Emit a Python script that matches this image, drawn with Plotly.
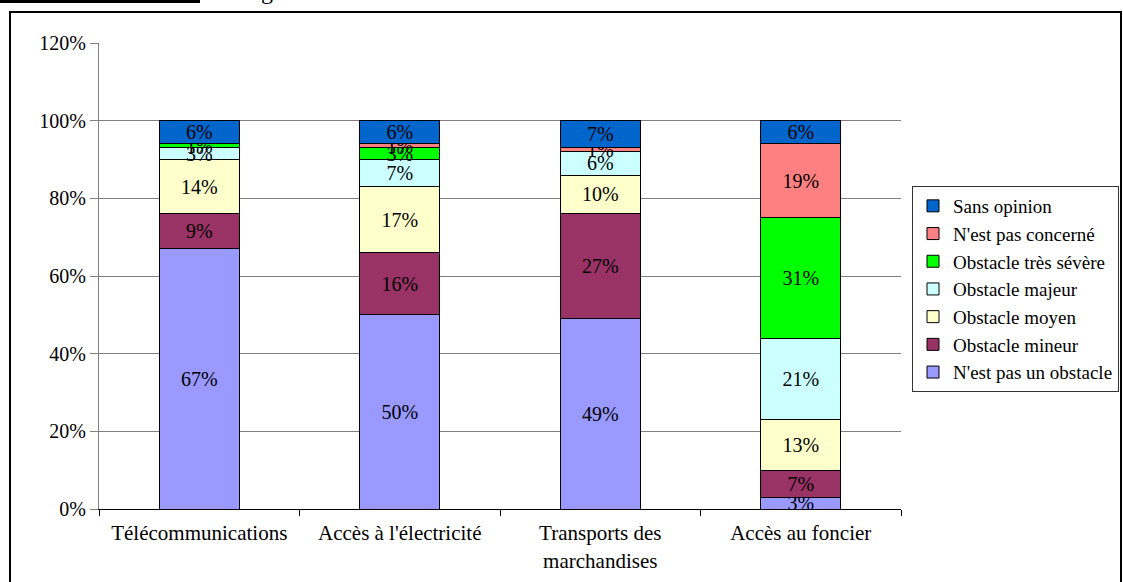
import plotly.graph_objects as go

categories = ["Télécommunications", "Accès à l'électricité", "Transports des<br>marchandises", "Accès au foncier"]

series_names = [
    "N'est pas un obstacle",
    "Obstacle mineur",
    "Obstacle moyen",
    "Obstacle majeur",
    "Obstacle très sévère",
    "N'est pas concerné",
    "Sans opinion",
]

pas_obstacle = [67, 50, 49, 3]
mineur = [9, 16, 27, 7]
moyen = [14, 17, 10, 13]
majeur = [3, 7, 6, 21]
tres_severe = [1, 3, 0, 31]
pas_concerne = [0, 1, 1, 19]
sans_opinion = [6, 6, 7, 6]

y_ticks = [0, 20, 40, 60, 80, 100, 120]
y_tick_labels = ["0%", "20%", "40%", "60%", "80%", "100%", "120%"]

colors = ["#9999FF", "#993366", "#FFFFCC", "#CCFFFF", "#00FF00", "#FF8080", "#0066CC"]
series_values = [pas_obstacle, mineur, moyen, majeur, tres_severe, pas_concerne, sans_opinion]

FONT = "Liberation Serif"
FS = 20

fig = go.Figure()
for name, vals, col in zip(series_names, series_values, colors):
    fig.add_trace(go.Bar(
        x=categories, y=vals, name=name,
        marker=dict(color=col, line=dict(color="black", width=1)),
        text=[f"{v:.0f}%" if v > 0 else "" for v in vals],
        textposition="inside", insidetextanchor="middle",
        textfont=dict(family=FONT, size=FS, color="black"),
        width=0.4,
    ))

W, H = 1123, 582
L, R, T, B = 99, 222, 43, 73
pw, ph = W - L - R, H - T - B

def px_x(p):
    return (p - L) / pw

def px_y(p):
    return (H - B - p) / ph

fig.update_layout(
    width=W, height=H,
    margin=dict(l=L, r=R, t=T, b=B, autoexpand=False),
    barmode="stack",
    bargap=0.6,
    plot_bgcolor="white", paper_bgcolor="white",
    font=dict(family=FONT, size=FS, color="black"),
    uniformtext=dict(minsize=FS, mode="show"),
    showlegend=True,
    legend=dict(
        x=px_x(912), y=px_y(186), xanchor="left", yanchor="top",
        traceorder="reversed",
        bordercolor="#333333", borderwidth=1,
        font=dict(family=FONT, size=19, color="black"),
        bgcolor="white",
        itemclick=False, itemdoubleclick=False,
    ),
    xaxis=dict(
        showgrid=False, showline=True, linecolor="black", linewidth=1,
        ticks="outside", tickson="boundaries", ticklen=6, tickcolor="black",
        tickfont=dict(family=FONT, size=21),
        ticklabelstandoff=5,
    ),
    yaxis=dict(
        range=[0, 120], tickmode="array", tickvals=y_ticks, ticktext=y_tick_labels,
        showgrid=True, gridcolor="#808080", gridwidth=1,
        showline=True, linecolor="#808080", linewidth=1,
        ticks="outside", ticklen=8, tickcolor="#808080",
        tickfont=dict(family=FONT, size=FS),
        zeroline=False,
    ),
    shapes=[
        dict(type="rect", xref="paper", yref="paper",
             x0=px_x(10), x1=px_x(1121), y0=px_y(584), y1=px_y(12),
             line=dict(color="black", width=2), fillcolor="rgba(0,0,0,0)", layer="below"),
        dict(type="rect", xref="paper", yref="paper",
             x0=px_x(-2), x1=px_x(200), y0=px_y(3), y1=px_y(-2),
             line=dict(width=0), fillcolor="black"),
    ],
    annotations=[
        dict(text="g", xref="paper", yref="paper", x=px_x(267), y=px_y(-9),
             xanchor="center", yanchor="middle", showarrow=False,
             font=dict(family=FONT, size=24, color="black")),
    ],
)

fig.write_html(
    "out.html",
    config={"displayModeBar": False},
    post_script="document.body.style.margin='0px';document.body.style.overflow='hidden';",
)
